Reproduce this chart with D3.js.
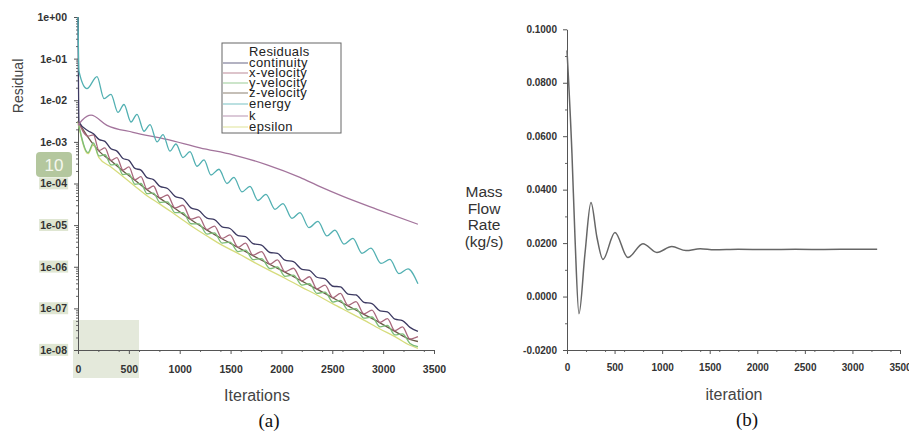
<!DOCTYPE html>
<html>
<head>
<meta charset="utf-8">
<script src="https://cdn.jsdelivr.net/npm/d3@7"></script>
<style>
  body { margin: 0; background: #fff; }
  svg { display: block; font-family: "Liberation Sans", Arial, sans-serif; }
</style>
</head>
<body>
<svg id="chart" width="909" height="434"></svg>
<script>
// ---------- panel (a): residuals (iteration, residual) ----------
const resTicks = [1, 1e-1, 1e-2, 1e-3, 1e-4, 1e-5, 1e-6, 1e-7, 1e-8];
const resTickLabels = ["1e+00", "1e-01", "1e-02", "1e-03", "1e-04", "1e-05", "1e-06", "1e-07", "1e-08"];
const iterTicks = [0, 500, 1000, 1500, 2000, 2500, 3000, 3500];
const iterTickLabels = ["0", "500", "1000", "1500", "2000", "2500", "3000", "3500"];

const continuity = [[0, 1], [10, 3.0e-3], [98, 1.85e-3], [152, 1.56e-3], [206, 1.15e-3], [265, 1.03e-3],
  [324, 6.8e-4], [383, 6.0e-4], [442, 4.0e-4], [501, 3.6e-4], [560, 2.3e-4], [619, 2.1e-4], [678, 1.38e-4],
  [742, 1.24e-4], [806, 8.5e-5], [880, 7.6e-5], [954, 4.9e-5], [1032, 4.3e-5], [1111, 2.6e-5], [1189, 2.25e-5],
  [1268, 1.47e-5], [1342, 1.36e-5], [1416, 9.1e-6], [1494, 8.3e-6], [1573, 5.6e-6], [1647, 5.3e-6],
  [1720, 3.6e-6], [1804, 3.3e-6], [1887, 2.2e-6], [1961, 2.1e-6], [2035, 1.44e-6], [2118, 1.32e-6],
  [2202, 8.7e-7], [2276, 8.2e-7], [2349, 5.6e-7], [2428, 5.1e-7], [2507, 3.4e-7], [2580, 3.3e-7],
  [2654, 2.2e-7], [2733, 2.1e-7], [2811, 1.4e-7], [2890, 1.3e-7], [2969, 8.7e-8], [3042, 8.2e-8],
  [3116, 5.5e-8], [3190, 5.1e-8], [3264, 3.5e-8], [3342, 2.8e-8]];

const xVelocity = [[0, 3.2e-3], [98, 1.37e-3], [152, 1.48e-3], [206, 6.2e-4], [265, 7.2e-4], [324, 3.6e-4],
  [383, 4.2e-4], [442, 2.1e-4], [501, 2.5e-4], [560, 1.23e-4], [619, 1.47e-4], [678, 7.3e-5], [742, 8.7e-5],
  [806, 4.5e-5], [880, 5.3e-5], [954, 2.6e-5], [1032, 3.0e-5], [1111, 1.39e-5], [1189, 1.57e-5], [1268, 7.8e-6],
  [1342, 9.5e-6], [1416, 4.8e-6], [1494, 5.8e-6], [1573, 2.95e-6], [1647, 3.7e-6], [1720, 1.9e-6],
  [1804, 2.3e-6], [1887, 1.16e-6], [1961, 1.46e-6], [2035, 7.6e-7], [2118, 9.2e-7], [2202, 4.6e-7],
  [2276, 5.75e-7], [2349, 2.95e-7], [2428, 3.6e-7], [2507, 1.82e-7], [2580, 2.3e-7], [2654, 1.18e-7],
  [2733, 1.45e-7], [2811, 7.4e-8], [2890, 9.1e-8], [2969, 4.6e-8], [3042, 5.7e-8], [3116, 2.9e-8],
  [3190, 3.6e-8], [3264, 1.84e-8], [3342, 2.1e-8]];

const yVelocity = [[0, 3.1e-3], [98, 5.5e-4], [152, 9.5e-4], [206, 4.6e-4], [265, 4.9e-4], [324, 2.8e-4],
  [383, 2.9e-4], [442, 1.64e-4], [501, 1.7e-4], [560, 9.6e-5], [619, 1.0e-4], [678, 5.7e-5], [742, 5.9e-5],
  [806, 3.5e-5], [880, 3.6e-5], [954, 2.0e-5], [1032, 2.0e-5], [1111, 1.08e-5], [1189, 1.07e-5], [1268, 6.1e-6],
  [1342, 6.5e-6], [1416, 3.7e-6], [1494, 3.9e-6], [1573, 2.3e-6], [1647, 2.5e-6], [1720, 1.48e-6],
  [1804, 1.56e-6], [1887, 9.0e-7], [1961, 9.9e-7], [2035, 5.9e-7], [2118, 6.3e-7], [2202, 3.6e-7],
  [2276, 3.9e-7], [2349, 2.3e-7], [2428, 2.45e-7], [2507, 1.42e-7], [2580, 1.56e-7], [2654, 9.2e-8],
  [2733, 9.9e-8], [2811, 5.8e-8], [2890, 6.2e-8], [2969, 3.6e-8], [3042, 3.9e-8], [3116, 2.3e-8],
  [3190, 2.45e-8], [3264, 1.44e-8], [3342, 1.2e-8]];

const zVelocity = [[0, 3.1e-3], [98, 1.3e-3], [206, 6.0e-4], [324, 3.5e-4], [442, 2.0e-4], [560, 1.2e-4],
  [678, 7.1e-5], [806, 4.4e-5], [954, 2.5e-5], [1111, 1.35e-5], [1268, 7.6e-6], [1416, 4.7e-6], [1573, 2.9e-6],
  [1720, 1.85e-6], [1887, 1.13e-6], [2035, 7.4e-7], [2202, 4.5e-7], [2349, 2.9e-7], [2507, 1.78e-7],
  [2654, 1.15e-7], [2811, 7.2e-8], [2969, 4.5e-8], [3116, 2.8e-8], [3264, 1.8e-8], [3342, 1.6e-8]];

const energy = [[0, 1], [10, 4.9e-2], [88, 1.9e-2], [187, 3.7e-2], [256, 1.1e-2], [324, 1.38e-2], [393, 5.1e-3],
  [452, 7.9e-3], [521, 3.0e-3], [580, 4.6e-3], [649, 1.8e-3], [708, 2.6e-3], [777, 1.0e-3], [836, 1.5e-3],
  [904, 6.0e-4], [963, 8.9e-4], [1032, 4.2e-4], [1101, 5.8e-4], [1170, 2.6e-4], [1239, 3.7e-4], [1307, 1.6e-4],
  [1386, 2.2e-4], [1465, 1.0e-4], [1533, 1.4e-4], [1612, 6.3e-5], [1691, 8.5e-5], [1769, 3.9e-5], [1848, 5.5e-5],
  [1937, 2.4e-5], [2015, 3.3e-5], [2104, 1.45e-5], [2182, 2.0e-5], [2271, 8.7e-6], [2359, 1.23e-5],
  [2448, 5.5e-6], [2526, 7.6e-6], [2615, 3.5e-6], [2703, 4.8e-6], [2792, 2.1e-6], [2880, 2.8e-6],
  [2979, 1.2e-6], [3067, 1.5e-6], [3155, 6.8e-7], [3244, 8.9e-7], [3342, 3.9e-7]];

const kTurb = [[0, 2.5e-3], [40, 3.3e-3], [128, 4.4e-3], [285, 2.5e-3], [541, 1.7e-3], [875, 1.15e-3],
  [1199, 7.2e-4], [1524, 4.9e-4], [1858, 2.8e-4], [2182, 1.4e-4], [2379, 8.4e-5], [2605, 4.9e-5],
  [2939, 2.4e-5], [3342, 1.05e-5]];

const epsilon = [[0, 3.0e-3], [98, 5.2e-4], [152, 8.6e-4], [206, 4.2e-4], [324, 2.5e-4], [442, 1.48e-4],
  [560, 8.6e-5], [678, 5.1e-5], [806, 3.2e-5], [954, 1.8e-5], [1111, 9.7e-6], [1268, 5.5e-6], [1416, 3.3e-6],
  [1573, 2.1e-6], [1720, 1.33e-6], [1887, 8.1e-7], [2035, 5.3e-7], [2202, 3.2e-7], [2349, 2.1e-7],
  [2507, 1.28e-7], [2654, 8.3e-8], [2811, 5.2e-8], [2969, 3.2e-8], [3116, 2.1e-8], [3264, 1.3e-8], [3342, 1.1e-8]];

// ---------- panel (b): mass flow rate ----------
const flowTicks = [-0.02, 0, 0.02, 0.04, 0.06, 0.08, 0.1];
const flowTickLabels = ["-0.0200", "0.0000", "0.0200", "0.0400", "0.0600", "0.0800", "0.1000"];
const massFlow = [[0, 0.0921], [52, 0.0536], [84, 0.0221], [126, -0.0064], [189, 0.0161], [252, 0.0352],
  [315, 0.0221], [378, 0.0139], [504, 0.0240], [640, 0.0146], [798, 0.0198], [945, 0.0165], [1102, 0.0187],
  [1250, 0.0172], [1400, 0.0179], [1550, 0.0175], [1800, 0.0177], [2100, 0.0176], [2400, 0.0177],
  [2700, 0.0176], [3000, 0.0177], [3260, 0.0177]];

const series = [
  { name: "continuity", data: continuity, color: "#3d3a62" },
  { name: "x-velocity", data: xVelocity, color: "#a8687c" },
  { name: "y-velocity", data: yVelocity, color: "#7dbd78" },
  { name: "z-velocity", data: zVelocity, color: "#6b5a48" },
  { name: "energy", data: energy, color: "#52b0b2" },
  { name: "k", data: kTurb, color: "#a3749c" },
  { name: "epsilon", data: epsilon, color: "#d6dc7c" }
];
// drawing order (last on top)
const drawOrder = ["z-velocity", "epsilon", "y-velocity", "x-velocity", "continuity", "k", "energy"];

const svg = d3.select("#chart");

const xa = d3.scaleLinear().domain([0, 3500]).range([78, 434]);
const ya = d3.scaleLog().domain([1e-8, 1]).range([350, 17]);
const xb = d3.scaleLinear().domain([0, 3500]).range([567, 900]);
const yb = d3.scaleLinear().domain([-0.02, 0.1]).range([350, 29.3]);

// pale box that sits over the lower left corner of (a)
svg.append("rect")
  .attr("x", 73).attr("y", 320).attr("width", 66).attr("height", 58)
  .attr("fill", "#e4e9db");

function styleAxis(g, size) {
  g.select(".domain").attr("stroke", "#555");
  g.selectAll(".tick line").attr("stroke", "#555");
  g.selectAll(".tick text")
    .attr("fill", "#333")
    .style("font-size", size + "px")
    .style("font-weight", "bold");
}

// minor ticks of (a)
const minorRes = ya.ticks().filter(v => Math.abs(Math.log10(v) - Math.round(Math.log10(v))) > 1e-6);
svg.append("g").attr("transform", "translate(78,0)")
  .call(d3.axisLeft(ya).tickValues(minorRes).tickSize(2).tickSizeOuter(0).tickFormat(""))
  .call(g => g.select(".domain").remove())
  .call(g => g.selectAll("line").attr("stroke", "#666"));

const gya = svg.append("g").attr("transform", "translate(78,0)")
  .call(d3.axisLeft(ya).tickValues(resTicks).tickFormat((d, i) => resTickLabels[i])
    .tickSize(4).tickSizeOuter(0).tickPadding(7))
  .call(g => styleAxis(g, 10.5));

svg.append("g").attr("transform", "translate(0,350)")
  .call(d3.axisBottom(xa).tickValues(xa.ticks(14).filter(v => v % 500 !== 0)).tickSize(2).tickSizeOuter(0).tickFormat(""))
  .call(g => g.select(".domain").remove())
  .call(g => g.selectAll("line").attr("stroke", "#666"));

svg.append("g").attr("transform", "translate(0,350)")
  .call(d3.axisBottom(xa).tickValues(iterTicks).tickFormat((d, i) => iterTickLabels[i])
    .tickSize(4).tickSizeOuter(0).tickPadding(12))
  .call(g => styleAxis(g, 10.5));

// light highlight behind some of the y labels, and the "10" badge
gya.selectAll(".tick").each(function (d) {
  if (d > 2e-4) return;
  const t = d3.select(this).select("text");
  const b = t.node().getBBox();
  d3.select(this).insert("rect", "text")
    .attr("x", b.x - 1).attr("y", b.y)
    .attr("width", b.width + 2).attr("height", b.height)
    .attr("fill", "#dfe6d2");
});
svg.append("rect")
  .attr("x", 36).attr("y", 152).attr("width", 36).attr("height", 25).attr("rx", 4)
  .attr("fill", "#b4c79e");
svg.append("text")
  .attr("x", 54).attr("y", 171).attr("text-anchor", "middle")
  .attr("fill", "#f4f7ee").style("font-size", "17px")
  .text("10");

const lineA = d3.line()
  .x(d => xa(d[0]))
  .y(d => ya(d[1]))
  .curve(d3.curveMonotoneX);

drawOrder.forEach(name => {
  const s = series.find(e => e.name === name);
  svg.append("path")
    .datum(s.data)
    .attr("d", lineA)
    .attr("fill", "none")
    .attr("stroke", s.color)
    .attr("stroke-width", 1.3);
});

// legend (entries are packed tightly, as in the original)
const leg = svg.append("g");
leg.append("rect")
  .attr("x", 222).attr("y", 43).attr("width", 119).attr("height", 90)
  .attr("fill", "#fff").attr("stroke", "#666");
leg.append("text")
  .attr("x", 249).attr("y", 56)
  .attr("fill", "#222").style("font-size", "13px").style("letter-spacing", "0.4px")
  .text("Residuals");
const legY = [63, 73, 83, 93, 104, 116, 127];
series.forEach((s, i) => {
  leg.append("line")
    .attr("x1", 223).attr("x2", 248)
    .attr("y1", legY[i]).attr("y2", legY[i])
    .attr("stroke", s.color).attr("stroke-opacity", 0.6).attr("stroke-width", 1.3);
  leg.append("text")
    .attr("x", 249).attr("y", legY[i] + 3.5)
    .attr("fill", "#222").style("font-size", "13px").style("letter-spacing", "0.4px")
    .text(s.name);
});

svg.append("text")
  .attr("transform", "translate(23,86) rotate(-90)")
  .attr("text-anchor", "middle")
  .attr("fill", "#444").style("font-size", "14px")
  .text("Residual");
svg.append("text")
  .attr("x", 257).attr("y", 401).attr("text-anchor", "middle")
  .attr("fill", "#444").style("font-size", "16px")
  .text("Iterations");
svg.append("text")
  .attr("x", 269).attr("y", 427).attr("text-anchor", "middle")
  .attr("fill", "#111").style("font-family", "'Liberation Serif', serif").style("font-size", "19px")
  .text("(a)");

// ---------- panel (b) ----------
svg.append("g").attr("transform", "translate(567,0)")
  .call(d3.axisLeft(yb).tickValues(yb.ticks(12).filter(v => Math.abs(Math.round(v * 50) - v * 50) > 1e-6))
    .tickSize(2).tickSizeOuter(0).tickFormat(""))
  .call(g => g.select(".domain").remove())
  .call(g => g.selectAll("line").attr("stroke", "#666"));

svg.append("g").attr("transform", "translate(567,0)")
  .call(d3.axisLeft(yb).tickValues(flowTicks).tickFormat((d, i) => flowTickLabels[i])
    .tickSize(4).tickSizeOuter(0).tickPadding(6))
  .call(g => styleAxis(g, 10));

svg.append("g").attr("transform", "translate(0,350)")
  .call(d3.axisBottom(xb).tickValues(xb.ticks(14).filter(v => v % 500 !== 0)).tickSize(2).tickSizeOuter(0).tickFormat(""))
  .call(g => g.select(".domain").remove())
  .call(g => g.selectAll("line").attr("stroke", "#666"));

svg.append("g").attr("transform", "translate(0,350)")
  .call(d3.axisBottom(xb).tickValues(iterTicks).tickFormat((d, i) => iterTickLabels[i])
    .tickSize(4).tickSizeOuter(0).tickPadding(10))
  .call(g => styleAxis(g, 10));

svg.append("path")
  .datum(massFlow)
  .attr("d", d3.line().x(d => xb(d[0])).y(d => yb(d[1])).curve(d3.curveMonotoneX))
  .attr("fill", "none")
  .attr("stroke", "#666")
  .attr("stroke-width", 1.5);

const flowLabel = ["Mass", "Flow", "Rate", "(kg/s)"];
flowLabel.forEach((t, i) => {
  svg.append("text")
    .attr("x", 484).attr("y", 197 + i * 16.5).attr("text-anchor", "middle")
    .attr("fill", "#333").style("font-size", "15.5px")
    .text(t);
});
svg.append("text")
  .attr("x", 734).attr("y", 400).attr("text-anchor", "middle")
  .attr("fill", "#444").style("font-size", "16px")
  .text("iteration");
svg.append("text")
  .attr("x", 747).attr("y", 426).attr("text-anchor", "middle")
  .attr("fill", "#111").style("font-family", "'Liberation Serif', serif").style("font-size", "19px")
  .text("(b)");
</script>
</body>
</html>
